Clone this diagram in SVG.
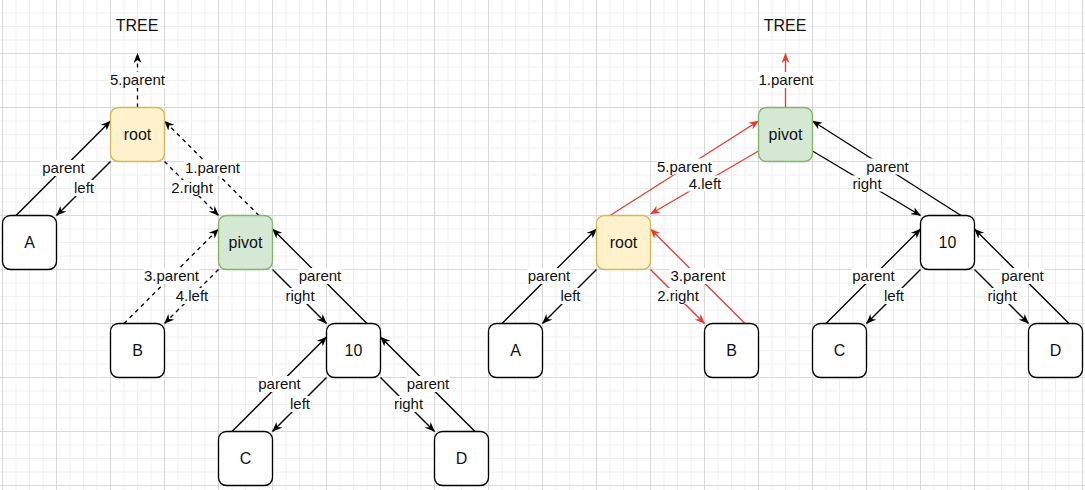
<svg xmlns="http://www.w3.org/2000/svg" width="1085" height="490" viewBox="0 0 1085 490">
<style>
.node{stroke:#000;stroke-width:1.35;fill:#fff}
.root{fill:#fff2cc;stroke:#d6b656;stroke-width:1.35}
.pivot{fill:#d5e8d4;stroke:#82b366;stroke-width:1.35}
.nt{font-family:"Liberation Sans",Arial,sans-serif;font-size:16px;fill:#111;text-anchor:middle}
.lt{font-family:"Liberation Sans",Arial,sans-serif;font-size:15px;fill:#111;text-anchor:middle}
.e{stroke:#000;stroke-width:1.35;fill:none;marker-end:url(#ah)}
.d{stroke-dasharray:4 4}
.r{stroke:#ea3c2e;marker-end:url(#ahr)}
.bg{fill:#fff}
</style>
<defs>
<pattern id="grid" x="2" y="-1" width="54" height="54" patternUnits="userSpaceOnUse">
<path d="M14,0V54M27.5,0V54M41,0V54M0,14H54M0,27.5H54M0,41H54" stroke="#efefef" stroke-width="1" fill="none"/>
<path d="M0.5,0V54M0,0.5H54" stroke="#d9d9d9" stroke-width="1" fill="none"/>
</pattern>
<marker id="ah" viewBox="0 0 10 8" refX="9.5" refY="4" markerWidth="10" markerHeight="8" markerUnits="userSpaceOnUse" orient="auto">
<path d="M0,0L10,4L0,8L3,4Z" fill="#000"/>
</marker>
<marker id="ahr" viewBox="0 0 10 8" refX="9.5" refY="4" markerWidth="10" markerHeight="8" markerUnits="userSpaceOnUse" orient="auto">
<path d="M0,0L10,4L0,8L3,4Z" fill="#ea3c2e"/>
</marker>
</defs>
<rect width="1085" height="490" fill="#fff"/>
<rect width="1085" height="490" fill="url(#grid)"/>

<g id="connectors">
<!-- left tree -->
<path class="e d" d="M137.5,107.5L137.5,53.5"/>
<path class="e" d="M16,215.5L110.5,121"/>
<path class="e" d="M110.5,161.5L56.5,215.5"/>
<path class="e d" d="M164.5,161.5L218.5,215.5"/>
<path class="e d" d="M259,215.5L164.5,121"/>
<path class="e d" d="M124,323.5L218.5,229"/>
<path class="e d" d="M218.5,269.5L164.5,323.5"/>
<path class="e" d="M272.5,269.5L326.5,323.5"/>
<path class="e" d="M367,323.5L272.5,229"/>
<path class="e" d="M232,431.5L326.5,337"/>
<path class="e" d="M326.5,377.5L272.5,431.5"/>
<path class="e" d="M380.5,377.5L434.5,431.5"/>
<path class="e" d="M475,431.5L380.5,337"/>
<!-- right tree -->
<path class="e r" d="M785.5,107.5L785.5,53.5"/>
<path class="e r" d="M610,215.5L758.5,121"/>
<path class="e r" d="M758.5,151L650.5,214"/>
<path class="e" d="M812.5,151L920.5,215.5"/>
<path class="e" d="M961,215.5L812.5,121"/>
<path class="e" d="M502,323.5L596.5,229"/>
<path class="e" d="M596.5,269.5L542.5,323.5"/>
<path class="e r" d="M650.5,269.5L704.5,323.5"/>
<path class="e r" d="M745,323.5L650.5,229"/>
<path class="e" d="M826,323.5L920.5,229"/>
<path class="e" d="M920.5,269.5L866.5,323.5"/>
<path class="e" d="M974.5,269.5L1028.5,323.5"/>
<path class="e" d="M1069,323.5L974.5,229"/>

<!-- label backgrounds -->
<g class="bg">
<rect x="109.5" y="72" width="56" height="16"/>
<rect x="41.5" y="160" width="44" height="16"/>
<rect x="73" y="180" width="22" height="16"/>
<rect x="184.5" y="160" width="56" height="16"/>
<rect x="170.5" y="180" width="43" height="16"/>
<rect x="143.5" y="268" width="56" height="16"/>
<rect x="175" y="288" width="34" height="16"/>
<rect x="298" y="268" width="44" height="16"/>
<rect x="285" y="288" width="30" height="16"/>
<rect x="257.5" y="376" width="44" height="16"/>
<rect x="289" y="396" width="22" height="16"/>
<rect x="406" y="376" width="44" height="16"/>
<rect x="393.5" y="396" width="30" height="16"/>
<rect x="758" y="72" width="56" height="16"/>
<rect x="656.5" y="158.5" width="56" height="16"/>
<rect x="688" y="175.5" width="34" height="16"/>
<rect x="865.5" y="158.5" width="44" height="16"/>
<rect x="852" y="175.5" width="30" height="16"/>
<rect x="527" y="268" width="44" height="16"/>
<rect x="559.5" y="288" width="22" height="16"/>
<rect x="670" y="268" width="56" height="16"/>
<rect x="656.5" y="288" width="43" height="16"/>
<rect x="851.5" y="268" width="44" height="16"/>
<rect x="883" y="288" width="22" height="16"/>
<rect x="1000.5" y="268" width="44" height="16"/>
<rect x="987" y="288" width="30" height="16"/>
</g>
<!-- labels -->
<text class="lt" x="137.5" y="85">5.parent</text>
<text class="lt" x="63.5" y="173">parent</text>
<text class="lt" x="84" y="193">left</text>
<text class="lt" x="212.5" y="173">1.parent</text>
<text class="lt" x="192" y="193">2.right</text>
<text class="lt" x="171.5" y="281">3.parent</text>
<text class="lt" x="192" y="301">4.left</text>
<text class="lt" x="320" y="281">parent</text>
<text class="lt" x="300" y="301">right</text>
<text class="lt" x="279.5" y="389">parent</text>
<text class="lt" x="300" y="409">left</text>
<text class="lt" x="428" y="389">parent</text>
<text class="lt" x="408.5" y="409">right</text>
<text class="lt" x="786" y="85">1.parent</text>
<text class="lt" x="684.5" y="171.5">5.parent</text>
<text class="lt" x="705" y="188.5">4.left</text>
<text class="lt" x="887.5" y="171.5">parent</text>
<text class="lt" x="867" y="188.5">right</text>
<text class="lt" x="549" y="281">parent</text>
<text class="lt" x="570.5" y="301">left</text>
<text class="lt" x="698" y="281">3.parent</text>
<text class="lt" x="678" y="301">2.right</text>
<text class="lt" x="873.5" y="281">parent</text>
<text class="lt" x="894" y="301">left</text>
<text class="lt" x="1022.5" y="281">parent</text>
<text class="lt" x="1002" y="301">right</text>
</g>

<!-- left tree nodes -->
<g id="tree-left"><text class="nt" x="137" y="31">TREE</text></g>
<g id="root-left"><rect class="root" x="110.5" y="107.5" width="54" height="54" rx="8"/><text class="nt" x="137.5" y="140">root</text></g>
<g id="A-left"><rect class="node" x="2.5" y="215.5" width="54" height="54" rx="8"/><text class="nt" x="29.5" y="248">A</text></g>
<g id="pivot-left"><rect class="pivot" x="218.5" y="215.5" width="54" height="54" rx="8"/><text class="nt" x="245.5" y="248">pivot</text></g>
<g id="B-left"><rect class="node" x="110.5" y="323.5" width="54" height="54" rx="8"/><text class="nt" x="137.5" y="356">B</text></g>
<g id="n10-left"><rect class="node" x="326.5" y="323.5" width="54" height="54" rx="8"/><text class="nt" x="353.5" y="356">10</text></g>
<g id="C-left"><rect class="node" x="218.5" y="431.5" width="54" height="54" rx="8"/><text class="nt" x="245.5" y="464">C</text></g>
<g id="D-left"><rect class="node" x="434.5" y="431.5" width="54" height="54" rx="8"/><text class="nt" x="461.5" y="464">D</text></g>

<!-- right tree nodes -->
<g id="tree-right"><text class="nt" x="785" y="31">TREE</text></g>
<g id="pivot-right"><rect class="pivot" x="758.5" y="107.5" width="54" height="54" rx="8"/><text class="nt" x="785.5" y="140">pivot</text></g>
<g id="root-right"><rect class="root" x="596.5" y="215.5" width="54" height="54" rx="8"/><text class="nt" x="623.5" y="248">root</text></g>
<g id="A-right"><rect class="node" x="488.5" y="323.5" width="54" height="54" rx="8"/><text class="nt" x="515.5" y="356">A</text></g>
<g id="B-right"><rect class="node" x="704.5" y="323.5" width="54" height="54" rx="8"/><text class="nt" x="731.5" y="356">B</text></g>
<g id="n10-right"><rect class="node" x="920.5" y="215.5" width="54" height="54" rx="8"/><text class="nt" x="947.5" y="248">10</text></g>
<g id="C-right"><rect class="node" x="812.5" y="323.5" width="54" height="54" rx="8"/><text class="nt" x="839.5" y="356">C</text></g>
<g id="D-right"><rect class="node" x="1028.5" y="323.5" width="54" height="54" rx="8"/><text class="nt" x="1055.5" y="356">D</text></g>
</svg>
